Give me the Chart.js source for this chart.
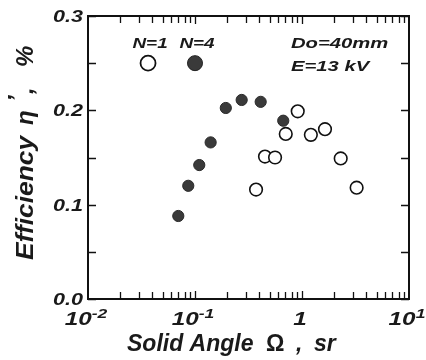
<!DOCTYPE html>
<html><head><meta charset="utf-8">
<script src="https://cdn.jsdelivr.net/npm/chart.js@4"></script>
<style>html,body{margin:0;padding:0;background:#fff}canvas{display:block}</style>
</head><body>
<canvas id="c" width="426" height="360"></canvas>
<script>
// Data
const n1Angle = [0.372, 0.451, 0.560, 0.705, 0.912, 1.21, 1.64, 2.30, 3.24];
const n1Eff   = [0.116, 0.151, 0.150, 0.175, 0.199, 0.174, 0.180, 0.149, 0.118];
const n4Angle = [0.0698, 0.0865, 0.1096, 0.140, 0.194, 0.273, 0.411, 0.668];
const n4Eff   = [0.088, 0.120, 0.142, 0.166, 0.2025, 0.211, 0.209, 0.189];
const yTickValues = [0, 0.1, 0.2, 0.3];
const yTickLabels = ['0.0', '0.1', '0.2', '0.3'];
const yMinorValues = [0.05, 0.15, 0.25];
const xTickValues = [0.01, 0.1, 1, 10];
const xTickBase = ['10', '10', '1', '10'];
const xTickExp  = ['-2', '-1', '', '1'];
const legendNames = ['N=1', 'N=4'];
const legendX = [0.0364, 0.1];
const legendY = 0.25;
const noteLines = ['Do=40mm', 'E=13 kV'];

const FONT = '"Liberation Sans", Arial, sans-serif';
const SX = 1.35; // horizontal stretch of the lettering

function wideText(ctx, text, x, y, align) {
  const w = ctx.measureText(text).width * SX;
  let left = x;
  if (align === 'center') left = x - w / 2;
  else if (align === 'right') left = x - w;
  ctx.save();
  ctx.translate(left, y);
  ctx.scale(SX, 1);
  ctx.textAlign = 'left';
  ctx.fillText(text, 0, 0);
  ctx.restore();
  return w;
}

const axesPlugin = {
  id: 'axesPlugin',
  afterDraw(chart) {
    const ctx = chart.ctx, a = chart.chartArea;
    const xs = chart.scales.x, ys = chart.scales.y;
    ctx.save();
    ctx.strokeStyle = '#111';
    ctx.lineWidth = 2;
    ctx.strokeRect(a.left, a.top, a.right - a.left, a.bottom - a.top);
    ctx.lineWidth = 1.3;
    const yt = yTickValues.concat(yMinorValues);
    yt.forEach(v => {
      const y = Math.round(ys.getPixelForValue(v)) + 0.5;
      ctx.beginPath();
      ctx.moveTo(a.left, y); ctx.lineTo(a.left + 8, y);
      ctx.moveTo(a.right, y); ctx.lineTo(a.right - 8, y);
      ctx.stroke();
    });
    for (let d = -2; d < 1; d++) {
      for (let m = 1; m <= 9; m++) {
        const v = m * Math.pow(10, d);
        if (v <= 0.01) continue;
        const x = Math.round(xs.getPixelForValue(v)) + 0.5;
        const len = (m === 1) ? 8 : 7;
        ctx.beginPath();
        ctx.moveTo(x, a.bottom); ctx.lineTo(x, a.bottom - len);
        ctx.moveTo(x, a.top); ctx.lineTo(x, a.top + len);
        ctx.stroke();
      }
    }
    ctx.fillStyle = '#1a1a1a';
    // y tick labels
    ctx.font = 'italic bold 16px ' + FONT;
    ctx.textBaseline = 'alphabetic';
    yTickValues.forEach((v, i) => {
      wideText(ctx, yTickLabels[i], a.left - 5, ys.getPixelForValue(v) + 6, 'right');
    });
    // x tick labels with superscripts
    xTickValues.forEach((v, i) => {
      const x = xs.getPixelForValue(v);
      ctx.font = 'italic bold 18px ' + FONT;
      const wb = ctx.measureText(xTickBase[i]).width * SX;
      ctx.font = 'italic bold 13px ' + FONT;
      const we = xTickExp[i] ? ctx.measureText(xTickExp[i]).width * SX : 0;
      const start = x - (wb + we) / 2 - 2;
      ctx.font = 'italic bold 18px ' + FONT;
      wideText(ctx, xTickBase[i], start, 325, 'left');
      if (xTickExp[i]) {
        ctx.font = 'italic bold 13px ' + FONT;
        wideText(ctx, xTickExp[i], start + wb, 318, 'left');
      }
    });
    // x axis title
    ctx.font = 'italic bold 23px ' + FONT;
    ctx.textAlign = 'left';
    ctx.fillText('Solid Angle', 127, 351);
    ctx.font = 'bold 23px ' + FONT;
    ctx.fillText('\u03A9', 266, 351);
    ctx.font = 'italic bold 23px ' + FONT;
    ctx.fillText(',', 296, 351);
    ctx.fillText('sr', 314, 351);
    // y axis title
    ctx.save();
    ctx.translate(33, 260);
    ctx.rotate(-Math.PI / 2);
    ctx.font = 'italic bold 24px ' + FONT;
    ctx.save(); ctx.scale(1.1, 1); ctx.fillText('Efficiency', 0, 0); ctx.restore();
    ctx.fillText('\u03B7', 135, 0);
    ctx.fillText('\u2019', 158, -8);
    ctx.fillText(',', 166, 0);
    ctx.fillText('%', 193, 0);
    ctx.restore();
    // legend
    ctx.font = 'italic bold 14px ' + FONT;
    const ly = ys.getPixelForValue(legendY);
    legendNames.forEach((name, i) => {
      const x = xs.getPixelForValue(legendX[i]);
      ctx.fillStyle = '#1a1a1a';
      wideText(ctx, name, x + 2, ly - 15, 'center');
      ctx.beginPath();
      ctx.arc(x, ly, 7.5, 0, Math.PI * 2);
      if (i === 0) { ctx.fillStyle = '#fff'; ctx.fill(); ctx.lineWidth = 1.8; ctx.strokeStyle = '#111'; ctx.stroke(); }
      else { ctx.fillStyle = '#3a3a3a'; ctx.fill(); ctx.lineWidth = 1; ctx.strokeStyle = '#222'; ctx.stroke(); }
    });
    ctx.fillStyle = '#1a1a1a';
    ctx.font = 'italic bold 15px ' + FONT;
    wideText(ctx, noteLines[0], 291, 48, 'left');
    wideText(ctx, noteLines[1], 291, 71, 'left');
    ctx.restore();
  }
};

new Chart(document.getElementById('c'), {
  type: 'scatter',
  data: {
    datasets: [
      {
        label: 'N=1',
        data: n1Angle.map((x, i) => ({ x: x, y: n1Eff[i] })),
        pointRadius: 6.3,
        pointBackgroundColor: '#ffffff',
        pointBorderColor: '#111',
        pointBorderWidth: 1.6
      },
      {
        label: 'N=4',
        data: n4Angle.map((x, i) => ({ x: x, y: n4Eff[i] })),
        pointRadius: 5.6,
        pointBackgroundColor: '#3a3a3a',
        pointBorderColor: '#2a2a2a',
        pointBorderWidth: 1
      }
    ]
  },
  options: {
    responsive: false,
    animation: false,
    layout: { padding: { left: 88, right: 17, top: 16, bottom: 61 } },
    plugins: { legend: { display: false }, tooltip: { enabled: false } },
    scales: {
      x: {
        type: 'logarithmic', min: 0.01, max: 10,
        ticks: { display: false }, grid: { display: false }, border: { display: false },
        afterFit: s => { s.height = 0; }
      },
      y: {
        type: 'linear', min: 0, max: 0.3,
        ticks: { display: false }, grid: { display: false }, border: { display: false },
        afterFit: s => { s.width = 0; }
      }
    }
  },
  plugins: [axesPlugin]
});
</script>
</body></html>
